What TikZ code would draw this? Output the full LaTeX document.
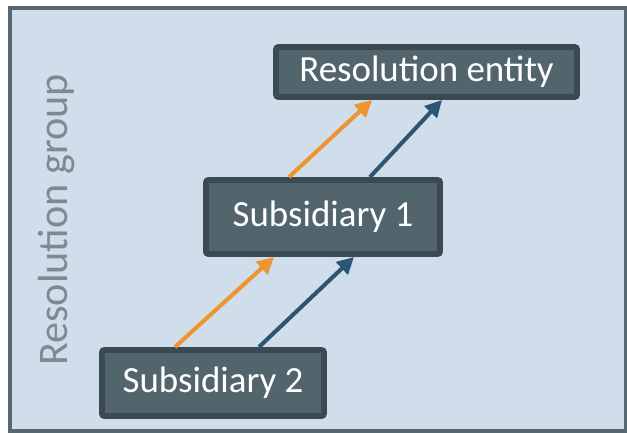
\documentclass[tikz,border=0pt]{standalone}
\usepackage{fontspec}
\setmainfont{Carlito}
\usetikzlibrary{positioning,arrows.meta}
\definecolor{groupFill}{HTML}{CFDEEA}
\definecolor{groupLine}{HTML}{56676F}
\definecolor{groupText}{HTML}{7A8B94}
\definecolor{boxFill}{HTML}{52656D}
\definecolor{boxLine}{HTML}{3B4A52}
\definecolor{lossOrange}{HTML}{EE9532}
\definecolor{capBlue}{HTML}{2C5674}
\tikzset{
    entbox/.style={draw=boxLine,fill=boxFill,line width=3.4pt,rounded corners=1.5pt,
        text=white,font=\fontsize{21}{24}\selectfont,text height=15.5pt,text depth=5pt},
    flow/.style={line width=2.3pt,-{Triangle[length=9.5pt,width=9.5pt]}}
}
\newcommand{\myBox}[6]{
    \node[entbox,minimum width=#3*0.02cm,minimum height=#4*0.02cm] (#5) at (#1,#2) {#6};
}

\begin{document}
\begin{tikzpicture}[x=0.02cm,y=-0.02cm]
      \useasboundingbox (0,0) rectangle (627,433);
      \draw[groupLine,fill=groupFill,line width=2.8pt] (10,8) rectangle (626,431);
      \node[rotate=90,anchor=base,text=groupText,font=\fontsize{24}{26}\selectfont] (group) at (68,220) {Resolution group};

      \myBox{426.5}{72}{301}{50}{ent}{Resolution entity}
      \myBox{323}{217}{234}{74}{sub1}{Subsidiary 1}
      \myBox{213}{383}{222}{66}{sub2}{Subsidiary 2}

      \draw[flow,lossOrange] ([xshift=-0.76cm]sub2.north) -- ([xshift=-0.98cm]sub1.south);
      \draw[flow,capBlue] ([xshift=0.92cm]sub2.north) -- ([xshift=0.62cm]sub1.south);
      \draw[flow,lossOrange] ([xshift=-0.68cm]sub1.north) -- ([xshift=-1.09cm]ent.south);
      \draw[flow,capBlue] ([xshift=0.94cm]sub1.north) -- ([xshift=0.31cm]ent.south);
  \end{tikzpicture}
\end{document}
